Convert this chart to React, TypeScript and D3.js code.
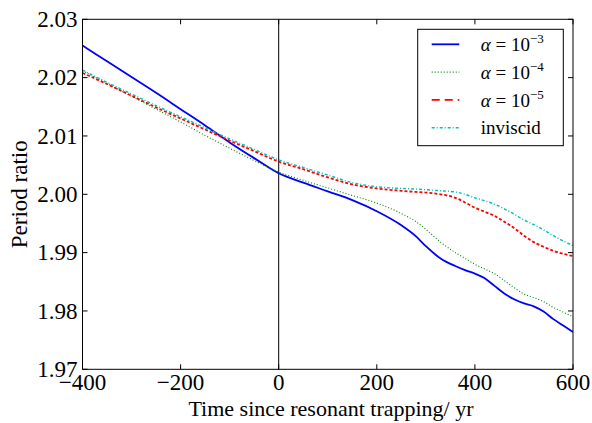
import React from "react";
import * as d3 from "d3";

const times = [-400, -350, -300, -250, -200, -150, -100, -50, 0, 50, 100, 150, 200, 250, 280, 300, 330, 360, 380, 400, 420, 440, 460, 480, 500, 520, 540, 560, 580, 600];

const alpha3 = [2.0255, 2.0228, 2.0201, 2.0174, 2.0146, 2.0118, 2.0089, 2.0062, 2.0036, 2.0020, 2.0005, 1.9990, 1.9971, 1.9947, 1.9928, 1.9911, 1.9890, 1.9877, 1.9870, 1.9864, 1.9856, 1.9843, 1.9830, 1.9820, 1.9813, 1.9808, 1.9799, 1.9786, 1.9775, 1.9764];
const alpha4 = [2.0212, 2.0190, 2.0168, 2.0146, 2.0124, 2.0101, 2.0079, 2.0058, 2.0038, 2.0024, 2.0011, 1.9998, 1.9985, 1.9967, 1.9953, 1.9940, 1.9918, 1.9900, 1.9890, 1.9880, 1.9872, 1.9864, 1.9852, 1.9840, 1.9829, 1.9823, 1.9816, 1.9806, 1.9798, 1.9790];
const alpha5 = [2.0208, 2.0189, 2.0169, 2.0149, 2.0130, 2.0111, 2.0092, 2.0074, 2.0056, 2.0043, 2.0029, 2.0017, 2.0010, 2.0006, 2.0004, 2.0003, 2.0000, 1.9994, 1.9986, 1.9977, 1.9970, 1.9963, 1.9953, 1.9942, 1.9929, 1.9918, 1.9910, 1.9903, 1.9898, 1.9894];
const inviscid = [2.0213, 2.0192, 2.0172, 2.0152, 2.0133, 2.0114, 2.0095, 2.0077, 2.0059, 2.0046, 2.0033, 2.0020, 2.0013, 2.0010, 2.0009, 2.0008, 2.0006, 2.0004, 2.0000, 1.9994, 1.9989, 1.9983, 1.9975, 1.9966, 1.9956, 1.9948, 1.9939, 1.9929, 1.9920, 1.9912];

const xTicks = [-400, -200, 0, 200, 400, 600];
const yTicks = [1.97, 1.98, 1.99, 2.0, 2.01, 2.02, 2.03];
const seriesExps = ["−3", "−4", "−5", ""];
const xLabel = "Time since resonant trapping/ yr";
const yLabel = "Period ratio";

const W = 592, H = 423;
const L = 82.5, R = 573, T = 19.3, B = 369.3;
const FONT = "'Liberation Serif', 'DejaVu Serif', serif";

export default function App() {
  const x = d3.scaleLinear().domain([-400, 600]).range([L, R]);
  const y = d3.scaleLinear().domain([1.97, 2.03]).range([B, T]);
  const line = d3
    .line<number>()
    .x((_, i) => x(times[i]))
    .y((d) => y(d))
    .curve(d3.curveMonotoneX);

  const series = [
    { vals: alpha3, color: "#0000ff", dash: "", legDash: "", width: 1.8 },
    { vals: alpha4, color: "#008000", dash: "1,2", legDash: "1,2", width: 1.1 },
    { vals: alpha5, color: "#ff0000", dash: "3,2", legDash: "8,5", width: 1.8 },
    { vals: inviscid, color: "#00bfbf", dash: "3,2,1,2", legDash: "3,2,1,2", width: 1.4 },
  ];

  const tickLen = 5;
  const legX = 417.7, legY = 29.3, legW = 145.6, legH = 116.4;

  return (
    <svg width={W} height={H} style={{ position: "fixed", left: 0, top: 0, background: "#fff" }} fontFamily={FONT}>
      <rect x={0} y={0} width={W} height={H} fill="#fff" />
      <defs>
        <clipPath id="plot">
          <rect x={L} y={T} width={R - L} height={B - T} />
        </clipPath>
      </defs>
      <line x1={x(0)} x2={x(0)} y1={T} y2={B} stroke="#000" strokeWidth={1} />
      <g clipPath="url(#plot)">
        {series.map((s, i) => (
          <path key={i} d={line(s.vals) || ""} fill="none" stroke={s.color} strokeWidth={s.width} strokeDasharray={s.dash || undefined} />
        ))}
      </g>
      <rect x={L} y={T} width={R - L} height={B - T} fill="none" stroke="#000" strokeWidth={1} />
      {xTicks.map((t) => (
        <g key={"x" + t}>
          <line x1={x(t)} x2={x(t)} y1={B} y2={B - tickLen} stroke="#000" />
          <line x1={x(t)} x2={x(t)} y1={T} y2={T + tickLen} stroke="#000" />
          <text x={x(t)} y={389.5} textAnchor="middle" fontSize={23}>
            {t < 0 ? "−" + Math.abs(t) : String(t)}
          </text>
        </g>
      ))}
      {yTicks.map((t) => (
        <g key={"y" + t}>
          <line x1={L} x2={L + tickLen} y1={y(t)} y2={y(t)} stroke="#000" />
          <line x1={R} x2={R - tickLen} y1={y(t)} y2={y(t)} stroke="#000" />
          <text x={77.5} y={y(t) + 7.6} textAnchor="end" fontSize={23}>
            {t.toFixed(2)}
          </text>
        </g>
      ))}
      <text x={331} y={416} textAnchor="middle" fontSize={22}>
        {xLabel}
      </text>
      <text transform={`translate(27,${(T + B) / 2}) rotate(-90)`} textAnchor="middle" fontSize={23}>
        {yLabel}
      </text>
      <rect x={legX} y={legY} width={legW} height={legH} fill="#fff" stroke="#000" strokeWidth={1} />
      {series.map((s, i) => {
        const ly = 44.3 + i * 27.8;
        return (
          <g key={"l" + i}>
            <line x1={431.7} x2={459.3} y1={ly} y2={ly} stroke={s.color} strokeWidth={s.width} strokeDasharray={s.legDash || undefined} />
            {i < 3 ? (
              <text x={480.7} y={ly + 7} fontSize={19}>
                <tspan fontStyle="italic">α</tspan>
                <tspan> = 10</tspan>
                <tspan dy={-8} fontSize={13}>{seriesExps[i]}</tspan>
              </text>
            ) : (
              <text x={480.7} y={ly + 6} fontSize={19}>
                inviscid
              </text>
            )}
          </g>
        );
      })}
    </svg>
  );
}
